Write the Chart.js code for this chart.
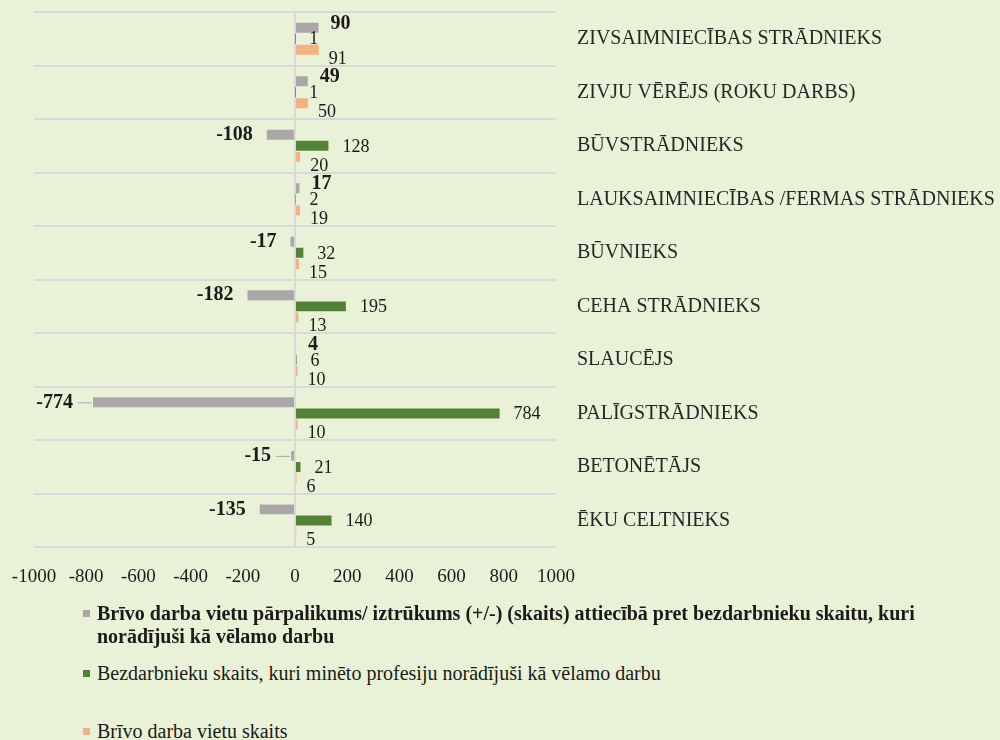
<!DOCTYPE html>
<html>
<head>
<meta charset="utf-8">
<script src="https://cdn.jsdelivr.net/npm/chart.js@4"></script>
<style>
    body { margin: 0; background: #E9F2D7; }
    #wrap { position: relative; width: 1000px; height: 740px; background: #E9F2D7; }
    #box { position: absolute; left: 0; top: 0; width: 1000px; height: 620px; }
    .item { position: absolute; left: 97px; font: 20px "Liberation Serif", serif; line-height: 23px; color: #1a1a1a; white-space: nowrap; }
    .item.bold { font-weight: bold; }
    .mark { position: absolute; left: 83px; width: 7px; height: 7px; }
</style>
</head>
<body>
<div id="wrap">
    <div id="box"><canvas id="barChart"></canvas></div>
    <div id="legend"></div>
</div>
<script>
const categories = [
    'ZIVSAIMNIECĪBAS STRĀDNIEKS',
    'ZIVJU VĒRĒJS (ROKU DARBS)',
    'BŪVSTRĀDNIEKS',
    'LAUKSAIMNIECĪBAS /FERMAS STRĀDNIEKS',
    'BŪVNIEKS',
    'CEHA STRĀDNIEKS',
    'SLAUCĒJS',
    'PALĪGSTRĀDNIEKS',
    'BETONĒTĀJS',
    'ĒKU CELTNIEKS'
];
const surplus = [90, 49, -108, 17, -17, -182, 4, -774, -15, -135];
const unemployed = [1, 1, 128, 2, 32, 195, 6, 784, 21, 140];
const vacancies = [91, 50, 20, 19, 15, 13, 10, 10, 6, 5];
const xTickValues = [-1000, -800, -600, -400, -200, 0, 200, 400, 600, 800, 1000];
const seriesNames = [
    ['Brīvo darba vietu pārpalikums/ iztrūkums (+/-) (skaits) attiecībā pret bezdarbnieku skaitu, kuri', 'norādījuši kā vēlamo darbu'],
    ['Bezdarbnieku skaits, kuri minēto profesiju norādījuši kā vēlamo darbu'],
    ['Brīvo darba vietu skaits']
];

const colors = ['#ABA7A8', '#548235', '#F4B183'];

// value labels next to the bars, offset like in the original
const barLabels = {
    id: 'barLabels',
    afterDatasetsDraw(chart) {
        const ctx = chart.ctx;
        const leaderIdx = [7, 8];
        ctx.save();
        ctx.textBaseline = 'middle';
        ctx.fillStyle = '#1a1a1a';
        chart.data.datasets.forEach((ds, di) => {
            const meta = chart.getDatasetMeta(di);
            meta.data.forEach((bar, i) => {
                const v = ds.data[i];
                const x = bar.x;
                const y = bar.y;
                if (di === 0) {
                    ctx.font = 'bold 20px "Liberation Serif", serif';
                    if (v < 0) {
                        let gap = 14;
                        if (leaderIdx.includes(i)) {
                            gap = 20;
                            ctx.strokeStyle = '#ABA7A8';
                            ctx.lineWidth = 1;
                            ctx.beginPath();
                            ctx.moveTo(x - 1, y + 0.5);
                            ctx.lineTo(x - 15, y + 0.5);
                            ctx.stroke();
                        }
                        ctx.textAlign = 'right';
                        ctx.fillText(v, x - gap, y);
                    } else {
                        ctx.textAlign = 'left';
                        ctx.fillText(v, x + 12, y - 4);
                    }
                } else if (di === 1) {
                    ctx.font = '18px "Liberation Serif", serif';
                    ctx.textAlign = 'left';
                    ctx.fillText(v, x + 14, y + 1);
                } else {
                    ctx.font = '18px "Liberation Serif", serif';
                    ctx.textAlign = 'left';
                    ctx.fillText(v, x + 10, y + 9);
                }
            });
        });
        ctx.restore();
    }
};

const chart = new Chart(document.getElementById('barChart'), {
    type: 'bar',
    data: {
        labels: categories,
        datasets: [
            { label: seriesNames[0].join(' '), data: surplus, backgroundColor: colors[0] },
            { label: seriesNames[1].join(' '), data: unemployed, backgroundColor: colors[1] },
            { label: seriesNames[2].join(' '), data: vacancies, backgroundColor: colors[2] }
        ]
    },
    options: {
        indexAxis: 'y',
        responsive: true,
        maintainAspectRatio: false,
        animation: false,
        datasets: {
            bar: {
                categoryPercentage: 0.62,
                barPercentage: 0.9
            }
        },
        layout: {
            padding: { left: 34, top: 12, right: 0, bottom: 14 }
        },
        plugins: {
            legend: { display: false },
            tooltip: { enabled: false }
        },
        scales: {
            x: {
                min: -1000,
                max: 1000,
                afterBuildTicks: (scale) => {
                    scale.ticks = xTickValues.map(v => ({ value: v }));
                },
                afterFit: (scale) => {
                    scale.paddingLeft = 0;
                    scale.paddingRight = 0;
                },
                grid: {
                    drawTicks: false,
                    lineWidth: 2,
                    color: (c) => c.tick && c.tick.value === 0 ? '#D9D9D9' : 'rgba(0,0,0,0)'
                },
                border: { display: false },
                ticks: {
                    padding: 18,
                    color: '#1a1a1a',
                    font: { family: '"Liberation Serif", serif', size: 19 },
                    callback: (v) => String(v)
                }
            },
            y: {
                position: 'right',
                afterFit: (scale) => {
                    scale.width = 444;
                    scale.paddingTop = 0;
                    scale.paddingBottom = 0;
                },
                grid: {
                    offset: true,
                    drawTicks: false,
                    lineWidth: 2,
                    color: '#D9D9D9'
                },
                border: { display: false },
                ticks: {
                    padding: 21,
                    crossAlign: 'near',
                    color: '#262626',
                    font: { family: '"Liberation Serif", serif', size: 20 }
                }
            }
        }
    },
    plugins: [barLabels]
});

// legend below the chart, built from the series names
const legend = document.getElementById('legend');
const legendTops = [602, 662, 720];
seriesNames.forEach((lines, i) => {
    const mark = document.createElement('div');
    mark.className = 'mark';
    mark.style.top = (legendTops[i] + 8) + 'px';
    mark.style.background = colors[i];
    legend.appendChild(mark);

    const item = document.createElement('div');
    item.className = 'item' + (i === 0 ? ' bold' : '');
    item.style.top = legendTops[i] + 'px';
    item.innerHTML = lines.join('<br>');
    legend.appendChild(item);
});
</script>
</body>
</html>
